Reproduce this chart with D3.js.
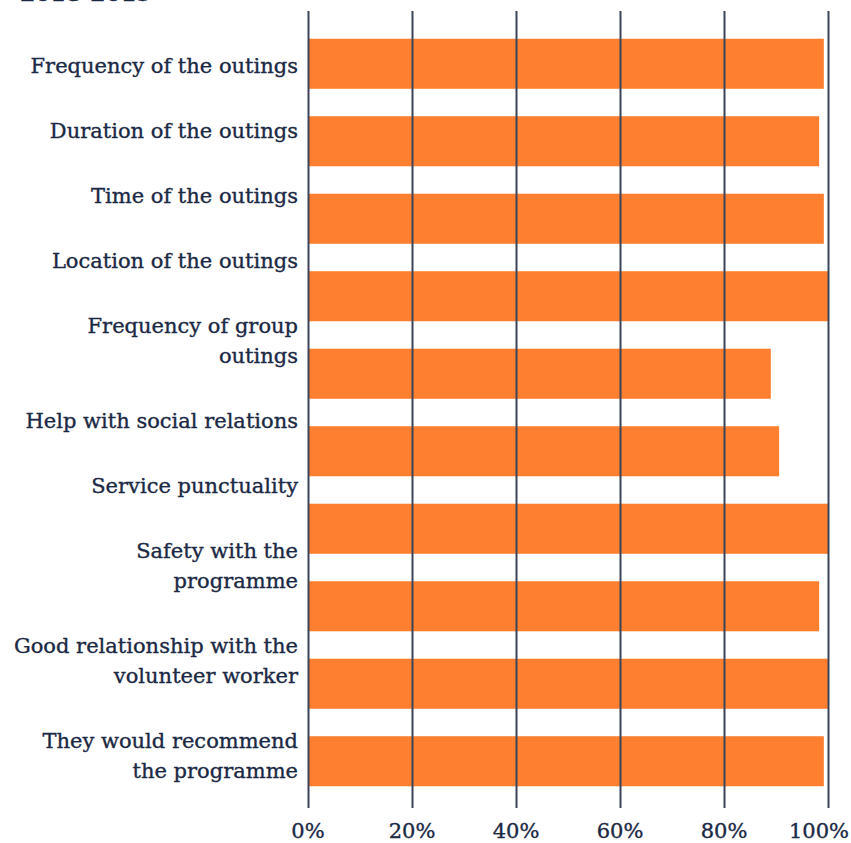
<!DOCTYPE html>
<html>
<head>
<meta charset="utf-8">
<script src="https://cdn.jsdelivr.net/npm/d3@7"></script>
<style>
    html, body { margin: 0; padding: 0; background: #fff; }
    svg text { font-family: "DejaVu Serif", serif; fill: #1b2944; stroke: #1b2944; stroke-width: 0.35px; }
</style>
</head>
<body>
<div id="chart"></div>
<script>
// satisfaction survey - horizontal bar chart

const categories = [
    "Frequency of the outings",
    "Duration of the outings",
    "Time of the outings",
    "Location of the outings",
    "Frequency of group outings",
    "Help with social relations",
    "Service punctuality",
    "Safety with the programme",
    "Good relationship with the volunteer worker",
    "They would recommend the programme"
];
const labelLines = [
    ["Frequency of the outings"],
    ["Duration of the outings"],
    ["Time of the outings"],
    ["Location of the outings"],
    ["Frequency of group", "outings"],
    ["Help with social relations"],
    ["Service punctuality"],
    ["Safety with the", "programme"],
    ["Good relationship with the", "volunteer worker"],
    ["They would recommend", "the programme"]
];
const values = [0.992, 0.983, 0.992, 1.0, 0.89, 0.906, 1.0, 0.983, 1.0, 0.992];
const ticks = [0, 0.2, 0.4, 0.6, 0.8, 1.0];
const title = "2018-2019";

window.onload = init;

function init()
{
    const width = 851, height = 843;
    const left = 308, right = 828;                       // plot area edges
    const gridTop = 11, gridBottom = 808;

    const svg = d3.select("#chart")
        .append("svg")
        .attr("width", width)
        .attr("height", height);

    const x = d3.scaleLinear().domain([0, 1]).range([left, right]);
    const y = d3.scaleBand()
        .domain(categories)
        .range([25, 800])
        .paddingInner(0.354)
        .paddingOuter(0.177);

    // title, mostly cut off at the top of the picture
    svg.append("text")
        .attr("x", 20)
        .attr("y", 1)
        .style("font-size", "22px")
        .style("font-weight", "bold")
        .text(title);

    svg.append("g")
        .selectAll("rect")
        .data(values)
        .join("rect")
        .attr("x", x(0))
        .attr("y", (d, i) => y(categories[i]))
        .attr("width", d => x(d) - x(0))
        .attr("height", y.bandwidth())
        .attr("fill", "#fe7f2f");

    svg.append("g")                                      // vertical grid lines on top of bars
        .selectAll("line")
        .data(ticks)
        .join("line")
        .attr("x1", d => Math.round(x(d)) + 0.5)
        .attr("x2", d => Math.round(x(d)) + 0.5)
        .attr("y1", gridTop)
        .attr("y2", gridBottom)
        .attr("stroke", "#3b4559")
        .attr("stroke-width", 2);

    const tickText = svg.append("g")
        .selectAll("text")
        .data(ticks)
        .join("text")
        .attr("x", d => x(d))
        .attr("y", 838)
        .attr("text-anchor", "middle")
        .style("font-size", "21px")
        .text(d3.format(".0%"));

    tickText.each(function () {                          // keep the last label inside the picture
        const b = this.getBBox();
        if (b.x + b.width > width - 2) {
            d3.select(this).attr("x", +d3.select(this).attr("x") - (b.x + b.width - (width - 2)));
        }
    });

    // category labels flow down the left side
    let base = 73;
    const lineHeight = 30, gap = 65;
    const labels = svg.append("g");
    labelLines.forEach((lines, i) => {
        lines.forEach((line, j) => {
            labels.append("text")
                .attr("x", 298)
                .attr("y", base)
                .attr("text-anchor", "end")
                .style("font-size", "21px")
                .text(line);
            if (j < lines.length - 1) base += lineHeight;
        });
        base += gap;
    });
}
</script>
</body>
</html>
